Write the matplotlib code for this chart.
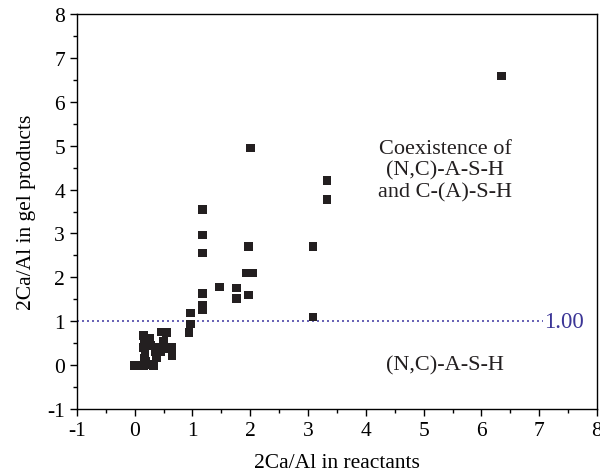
import matplotlib
matplotlib.use('Agg')
import matplotlib.pyplot as plt
from matplotlib.ticker import MultipleLocator
import numpy as np

plt.rcParams['font.family'] = ['Liberation Serif', 'DejaVu Serif']
plt.rcParams['font.size'] = 12

# 2Ca/Al in reactants vs 2Ca/Al in gel products
x_reactants = [
    0.0, 0.08, 0.15, 0.22, 0.33,
    0.15, 0.17, 0.15, 0.18, 0.17, 0.2,
    0.27, 0.28, 0.35, 0.38, 0.42,
    0.47, 0.55, 0.5, 0.52, 0.45,
    0.65, 0.65, 0.65,
    0.94, 0.97, 0.97,
    1.17, 1.17, 1.17, 1.17, 1.17, 1.17,
    1.47, 1.76, 1.76,
    1.94, 2.05, 1.97, 1.97, 2.01,
    3.09, 3.09, 3.33, 3.33, 6.35,
]
y_products = [
    0.0, 0.0, 0.0, 0.02, 0.0,
    0.68, 0.55, 0.40, 0.28, 0.15, 0.08,
    0.62, 0.45, 0.3, 0.18, 0.42,
    0.76, 0.74, 0.55, 0.38, 0.3,
    0.4, 0.22, 0.3,
    0.75, 0.94, 1.19,
    1.27, 1.36, 1.63, 2.56, 2.97, 3.54,
    1.78, 1.76, 1.52,
    2.10, 2.10, 2.70, 1.60, 4.95,
    1.10, 2.70, 3.77, 4.20, 6.58,
]

threshold = 1.0
threshold_label = '1.00'
region_upper = 'Coexistence of\n(N,C)-A-S-H\nand C-(A)-S-H'
region_lower = '(N,C)-A-S-H'

line_color = '#4b45a8'

fig = plt.figure(figsize=(6.0, 4.77), dpi=100)
ax = fig.add_axes([0.128, 0.14, 0.867, 0.829])

ax.scatter(x_reactants, y_products, marker='s', s=38, color='#231f20',
           edgecolors='none', zorder=3)

ax.plot([-1, 7.06], [threshold, threshold], linestyle=(0, (1.2, 1.8)),
        color=line_color, linewidth=1.2, zorder=2)
ax.text(7.08, threshold, threshold_label, color='#3b3596', fontsize=16.5,
        ha='left', va='center')

ax.text(5.37, 4.44, region_upper, ha='center', va='center', fontsize=16,
        color='#231f20', linespacing=1.2)
ax.text(5.37, 0.0, region_lower, ha='center', va='center', fontsize=16,
        color='#231f20')

ax.set_xlim(-1, 8)
ax.set_ylim(-1, 8)
ax.xaxis.set_minor_locator(MultipleLocator(0.5))
ax.yaxis.set_minor_locator(MultipleLocator(0.5))
ax.set_xticks(np.arange(-1, 9, 1))
ax.set_xticklabels([str(v) for v in range(-1, 9)])
ax.set_yticks(np.arange(-1, 9, 1))
ax.set_yticklabels([str(v) for v in range(-1, 9)])
ax.tick_params(which='major', direction='out', length=5, width=1, labelsize=15.5,
               top=False, right=False)
ax.tick_params(which='minor', direction='out', length=3, width=1,
               top=False, right=False)
for sp in ax.spines.values():
    sp.set_linewidth(1)

ax.set_xlabel('2Ca/Al in reactants', fontsize=15.5, labelpad=9)
ax.set_ylabel('2Ca/Al in gel products', fontsize=15.5, labelpad=8)

fig.savefig('out.png', dpi=100)
